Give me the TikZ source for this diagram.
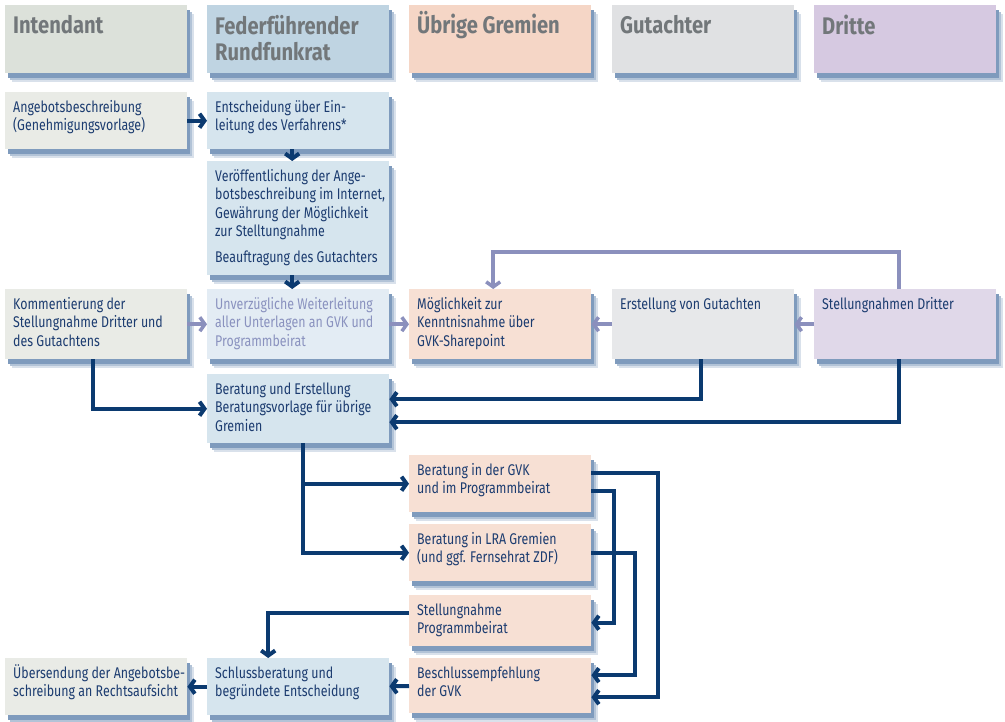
\documentclass[tikz,border=0pt]{standalone}
\usepackage{fontspec}
\setmainfont{Fira Sans}[FakeStretch=0.80]
\newfontfamily\hdrfont{Fira Sans}[FakeStretch=0.84]
\usetikzlibrary{arrows.meta,shadows}

\definecolor{hdrA}{HTML}{DCE1DA}
\definecolor{boxA}{HTML}{E9EBE6}
\definecolor{hdrB}{HTML}{BFD4E2}
\definecolor{boxB}{HTML}{D6E5EE}
\definecolor{boxBl}{HTML}{E3ECF4}
\definecolor{hdrC}{HTML}{F5D6C6}
\definecolor{boxC}{HTML}{F7E0D4}
\definecolor{hdrD}{HTML}{E0E1E3}
\definecolor{boxD}{HTML}{E7E8EA}
\definecolor{hdrE}{HTML}{D6C9E1}
\definecolor{boxE}{HTML}{E0D8E9}
\definecolor{shadowblue}{HTML}{7F9BBD}
\definecolor{navy}{HTML}{0B3A70}
\definecolor{txtblue}{HTML}{1C3C70}
\definecolor{hdrgray}{HTML}{72777A}
\definecolor{lightarrow}{HTML}{8B90BD}
\definecolor{lighttxt}{HTML}{8A92BF}

\newcommand{\cell}[2]{\parbox[t][#1][t]{166pt}{\begin{tabular}[t]{@{}l@{}}#2\end{tabular}}}
\newcommand{\hcell}[1]{\parbox[t][54pt][t]{166pt}{\vspace*{3pt}\begin{tabular}[t]{@{}l@{}}#1\end{tabular}}}

\begin{document}
\begin{tikzpicture}[x=1pt,y=-1pt,
  shd/.style={drop shadow={shadow xshift=7pt,shadow yshift=-9pt,fill=shadowblue!30,opacity=1},
              drop shadow={shadow xshift=5pt,shadow yshift=-7pt,fill=shadowblue!60,opacity=1},
              drop shadow={shadow xshift=3pt,shadow yshift=-5pt,fill=shadowblue,opacity=1}},
  box/.style={shd,anchor=north west,inner xsep=8pt,inner ysep=7pt,text=txtblue,
              font=\fontsize{15.5}{18.5}\selectfont},
  hdr/.style={box,text=hdrgray,font=\hdrfont\bfseries\fontsize{24}{26}\selectfont},
  arr/.style={draw=navy,line width=4pt,-{Straight Barb[length=5pt,width=14pt]}},
  lightarr/.style={arr,draw=lightarrow,line width=3.5pt}]

 \fill[white] (0,0) rectangle (1005,721);

 % columns
 \node[hdr,fill=hdrA] (hA) at (5,5)   {\hcell{Intendant}};
 \node[hdr,fill=hdrB] (hB) at (207,5) {\hcell{Federführender\\Rundfunkrat}};
 \node[hdr,fill=hdrC] (hC) at (409,5) {\hcell{\smash{Übrige Gremien}}};
 \node[hdr,fill=hdrD] (hD) at (612,5) {\hcell{Gutachter}};
 \node[hdr,fill=hdrE] (hE) at (814,5) {\hcell{Dritte}};

 \node[box,fill=boxA] (a1) at (5,92)   {\cell{43pt}{Angebotsbeschreibung\\(Genehmigungsvorlage)}};
 \node[box,fill=boxB] (b1) at (207,92) {\cell{43pt}{Entscheidung über Ein-\\leitung des Verfahrens*}};
 \node[box,fill=boxB] (b2) at (207,161) {\cell{100pt}{Veröffentlichung der Ange-\\botsbeschreibung im Internet,\\Gewährung der Möglichkeit\\zur Stelltungnahme\\[7pt]Beauftragung des Gutachters}};

 \node[box,fill=boxA] (a2) at (5,289)   {\cell{56pt}{Kommentierung der\\Stellungnahme Dritter und\\des Gutachtens}};
 \node[box,fill=boxBl,text=lighttxt] (b3) at (207,289) {\cell{56pt}{Unverzügliche Weiterleitung\\aller Unterlagen an GVK und\\Programmbeirat}};
 \node[box,fill=boxC] (c1) at (409,289) {\cell{56pt}{Möglichkeit zur\\Kenntnisnahme über\\GVK-Sharepoint}};
 \node[box,fill=boxD] (d1) at (612,289) {\cell{56pt}{Erstellung von Gutachten}};
 \node[box,fill=boxE] (e1) at (814,289) {\cell{56pt}{Stellungnahmen Dritter}};

 \node[box,fill=boxB] (b4) at (207,374) {\cell{55pt}{Beratung und Erstellung\\Beratungsvorlage für übrige\\Gremien}};

 \node[box,fill=boxC] (c2) at (409,455) {\cell{43pt}{Beratung in der GVK\\und im Programmbeirat}};
 \node[box,fill=boxC] (c3) at (409,524) {\cell{43pt}{Beratung in LRA Gremien\\(und ggf. Fernsehrat ZDF)}};
 \node[box,fill=boxC] (c4) at (409,595) {\cell{37pt}{Stellungnahme\\Programmbeirat}};
 \node[box,fill=boxC] (c5) at (409,658) {\cell{41pt}{Beschlussempfehlung\\der GVK}};
 \node[box,fill=boxB] (b5) at (207,658) {\cell{43pt}{Schlussberatung und\\begründete Entscheidung}};
 \node[box,fill=boxA] (a3) at (5,658)   {\cell{43pt}{\smash{Übersendung der Angebotsbe-}\\schreibung an Rechtsaufsicht}};

 % connectors
 \draw[arr] (a1) -- (b1);
 \draw[arr] ([xshift=-6pt]b1.south) -- ([xshift=-6pt]b2.north);
 \draw[arr] ([xshift=-6pt]b2.south) -- ([xshift=-6pt]b3.north);
 \draw[lightarr] (a2) -- (b3);
 \draw[lightarr] (b3) -- (c1);
 \draw[lightarr] (d1) -- (c1);
 \draw[lightarr] (e1) -- (d1);
 \draw[lightarr] ([xshift=-6pt]e1.north) -- ++(0,-37) -| ([xshift=-7pt]c1.north);

 \draw[arr] ([xshift=-3pt]a2.south) |- (b4.west);
 \draw[arr] ([xshift=-2pt]d1.south) |- ([yshift=9.5pt]b4.east);
 \draw[arr] ([xshift=-6pt]e1.south) |- ([yshift=-13.5pt]b4.east);

 \draw[arr] ([xshift=5pt]b4.south) |- (c2.west);
 \draw[arr] ([xshift=5pt]b4.south) |- (c3.west);
 \draw[arr] ([yshift=10.5pt]c2.east) -- ++(67,0) |- ([yshift=-11.5pt]c5.east);
 \draw[arr] ([yshift=-7.5pt]c2.east) -- ++(23,0) |- ([yshift=-2pt]c4.east);
 \draw[arr] (c3.east) -- ++(44,0) |- ([yshift=10.5pt]c5.east);
 \draw[arr] ([yshift=7.5pt]c4.west) -| ([xshift=-30pt]b5.north);
 \draw[arr] (c5) -- (b5);
 \draw[arr] (b5) -- (a3);
\end{tikzpicture}
\end{document}
